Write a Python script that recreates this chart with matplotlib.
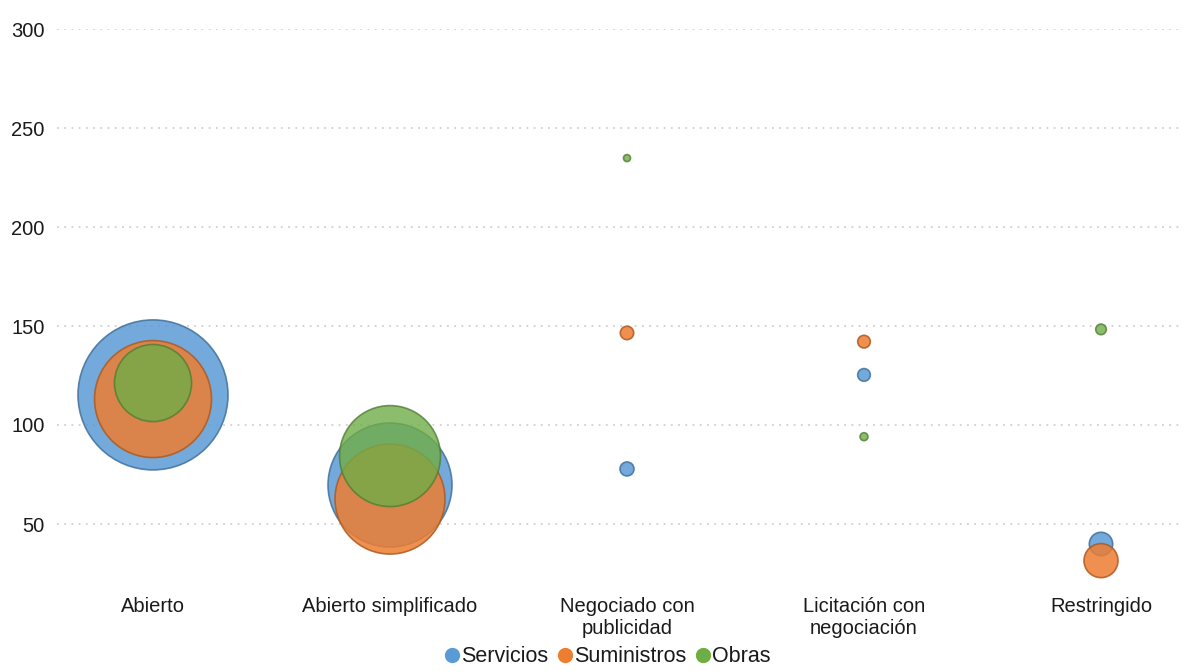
import numpy as np
import matplotlib
matplotlib.use("Agg")
import matplotlib.pyplot as plt
from matplotlib.lines import Line2D

plt.rcParams['font.family'] = ['Liberation Sans', 'DejaVu Sans']

# data
categories = ["Abierto", "Abierto simplificado", "Negociado con\npublicidad",
              "Licitación con\nnegociación", "Restringido"]
series_names = ["Servicios", "Suministros", "Obras"]

servicios_y = [115.2, 69.7, 77.8, 125.3, 39.9]
suministros_y = [113.1, 62.6, 146.5, 142.1, 31.5]
obras_y = [121.2, 84.3, 234.8, 94.1, 148.3]

# bubble size (relative area)
servicios_size = [100, 68.3, 0.87, 0.71, 2.43]
suministros_size = [60.8, 53.8, 0.80, 0.71, 5.14]
obras_size = [26.4, 45.3, 0.22, 0.28, 0.50]

fills = ["#5B9BD5", "#ED7D31", "#70AD47"]
edges = ["#41719C", "#AE5A21", "#507E32"]
alphas = [0.85, 0.85, 0.8]

W, H = 1183, 671
fig = plt.figure(figsize=(W / 100, H / 100), dpi=100)
ax = fig.add_axes([57 / W, 1 - 583.4 / H, 1 - 57 / W, (583.4 - 29) / H])

x = np.arange(1, len(categories) + 1)
max_diam_pt = 2 * 75 * 0.72  # biggest bubble diameter in points
all_y = [servicios_y, suministros_y, obras_y]
all_s = [servicios_size, suministros_size, obras_size]
for i in range(3):
    s = (max_diam_pt ** 2) * np.array(all_s[i]) / 100
    ax.scatter(x, all_y[i], s=s, color=fills[i], edgecolors=edges[i],
               linewidths=1.2, alpha=alphas[i], zorder=3 + i)

ax.set_xlim(1 - 96 / 237, 5 + 82 / 237)
ax.set_ylim(20, 300)
ax.set_yticks([50, 100, 150, 200, 250, 300])
ax.set_xticks(x)
ax.set_xticklabels(categories, linespacing=1.2)
ax.tick_params(axis='both', length=0, labelsize=14.5, colors='#1a1a1a')
ax.tick_params(axis='y', pad=9)
ax.tick_params(axis='x', pad=10)
for lbl in ax.get_xticklabels():
    lbl.set_verticalalignment('top')
ax.grid(axis='y', linestyle=(0, (1, 3)), color='#D0D0D0', linewidth=1.3)
ax.set_axisbelow(True)
for sp in ax.spines.values():
    sp.set_visible(False)

handles = [Line2D([], [], marker='o', linestyle='', markersize=10,
                  markerfacecolor=fills[i], markeredgecolor=fills[i])
           for i in range(3)]
fig.legend(handles, series_names, loc='center', ncol=3,
           bbox_to_anchor=(607 / W, 1 - 657 / H), frameon=False,
           fontsize=15.5, handletextpad=0.0, columnspacing=0.4,
           handlelength=0.8, labelcolor='#1a1a1a', borderpad=0.1)

fig.savefig("out.png", dpi=100)
